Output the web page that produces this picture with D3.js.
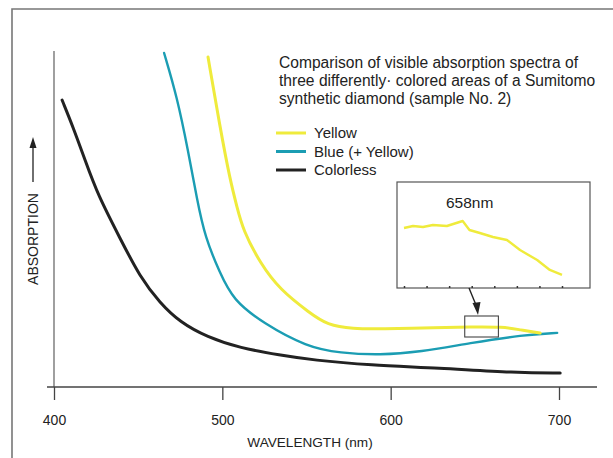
<!DOCTYPE html>
<html>
<head>
<meta charset="utf-8">
<script src="https://cdn.jsdelivr.net/npm/d3@7"></script>
<style>
  body { margin: 0; background: #fff; }
  svg text { font-family: "Liberation Sans", Arial, sans-serif; fill: #222; }
</style>
</head>
<body>
<div id="chart"></div>
<script>
// spectra: [wavelength nm, absorption (arbitrary units)]
const colorless = [
  [404.8, 85.4], [411.3, 77.4], [418.4, 67.6], [426.1, 57.1], [439.2, 44.3],
  [451.1, 32.7], [463.0, 25.0], [474.9, 19.3], [490.9, 14.9], [510.5, 11.6],
  [534.3, 9.5], [553.9, 8.0], [587.8, 6.5], [627.6, 5.7], [675.1, 4.2], [700.7, 4.2]
];
const blueYellow = [
  [465.4, 99.4], [473.1, 86.3], [479.6, 70.5], [485.0, 55.7], [489.7, 44.6],
  [498.6, 33.9], [506.4, 25.9], [524.2, 19.0], [550.3, 11.9], [569.9, 10.1],
  [593.7, 9.5], [617.5, 10.4], [647.2, 13.1], [678.7, 15.5], [698.9, 16.1]
];
const yellow = [
  [491.5, 98.2], [498.6, 77.4], [504.6, 61.6], [508.7, 53.6], [512.3, 46.7],
  [522.4, 36.9], [534.3, 28.9], [552.1, 22.0], [562.2, 18.5], [577.7, 17.3],
  [593.7, 17.3], [627.6, 17.6], [647.2, 17.9], [666.8, 17.9], [676.9, 17.0], [688.8, 16.1]
];
// enlarged detail around the 658 nm band
const insetYellow = [
  [645.0, 0.566], [647.0, 0.585], [649.2, 0.575], [651.4, 0.594], [654.5, 0.585],
  [658.0, 0.632], [659.5, 0.547], [661.8, 0.519], [664.7, 0.481], [667.8, 0.453],
  [670.7, 0.358], [674.5, 0.264], [677.3, 0.170], [680.0, 0.123]
];
const xTicks = [400, 500, 600, 700];
const legendItems = ["Yellow", "Blue (+ Yellow)", "Colorless"];
const titleLines = [
  "Comparison of visible absorption spectra of",
  "three differently\u00b7 colored areas of a Sumitomo",
  "synthetic diamond (sample No. 2)"
];

const width = 613, height = 458;
const svg = d3.select("#chart").append("svg")
    .attr("width", width)
    .attr("height", height);

const colors = { yellow: "#efeb3c", blue: "#1b9db3", black: "#222" };

// outer frame
svg.append("path")
    .attr("d", `M12,${height} L12,9 L${width},9`)
    .attr("fill", "none")
    .attr("stroke", "#777")
    .attr("stroke-width", 1.6);

const x = d3.scaleLinear().domain([400, 700]).range([54, 559]);
const y = d3.scaleLinear().domain([0, 100]).range([387, 51]);

// axes
svg.append("line")
    .attr("x1", 54).attr("x2", 54)
    .attr("y1", y(100)).attr("y2", y(0))
    .attr("stroke", "#777").attr("stroke-width", 1.4);
svg.append("line")
    .attr("x1", 47).attr("x2", 597)
    .attr("y1", y(0)).attr("y2", y(0))
    .attr("stroke", "#444").attr("stroke-width", 1.4);

const xAxis = svg.append("g")
    .attr("transform", `translate(0, ${y(0)})`)
    .call(d3.axisBottom(x).tickValues(xTicks).tickSize(13).tickPadding(15));
xAxis.select(".domain").remove();
xAxis.selectAll("line").attr("stroke", "#444").attr("stroke-width", 1.3);
xAxis.selectAll("text")
    .style("font-size", "14px")
    .style("font-family", "'Liberation Sans', Arial, sans-serif")
    .attr("fill", "#222");

svg.append("text")
    .attr("x", 310)
    .attr("y", 447)
    .attr("text-anchor", "middle")
    .style("font-size", "13.6px")
    .text("WAVELENGTH (nm)");

// y label with arrow
svg.append("text")
    .attr("transform", "translate(38, 239) rotate(-90)")
    .attr("text-anchor", "middle")
    .style("font-size", "14px")
    .text("ABSORPTION");
svg.append("line")
    .attr("x1", 33).attr("x2", 33)
    .attr("y1", 182).attr("y2", 146)
    .attr("stroke", "#222").attr("stroke-width", 1.3);
svg.append("path")
    .attr("d", "M33,137 L29.5,148 L36.5,148 Z")
    .attr("fill", "#222");

// curves
const line = d3.line()
    .x(d => x(d[0]))
    .y(d => y(d[1]))
    .curve(d3.curveBasis);

const series = [
  { data: colorless, color: colors.black, w: 3 },
  { data: blueYellow, color: colors.blue, w: 2.4 },
  { data: yellow, color: colors.yellow, w: 3 }
];
svg.selectAll(".spectrum")
    .data(series)
    .enter().append("path")
    .attr("class", "spectrum")
    .attr("d", d => line(d.data))
    .attr("fill", "none")
    .attr("stroke", d => d.color)
    .attr("stroke-width", d => d.w)
    .attr("stroke-linecap", "round");

// title text
svg.selectAll(".title")
    .data(titleLines)
    .enter().append("text")
    .attr("class", "title")
    .attr("x", 279)
    .attr("y", (d, i) => 68 + i * 18)
    .style("font-size", "15.6px")
    .text(d => d);

// legend
const legendColors = [colors.yellow, colors.blue, colors.black];
const legend = svg.append("g").attr("transform", "translate(276, 133)");
legend.selectAll("line")
    .data(legendItems)
    .enter().append("line")
    .attr("x1", 0).attr("x2", 30)
    .attr("y1", (d, i) => i * 18.5)
    .attr("y2", (d, i) => i * 18.5)
    .attr("stroke", (d, i) => legendColors[i])
    .attr("stroke-width", 3);
legend.selectAll("text")
    .data(legendItems)
    .enter().append("text")
    .attr("x", 38)
    .attr("y", (d, i) => i * 18.5 + 5)
    .style("font-size", "15px")
    .text(d => d);

// inset
const inset = { x0: 397, y0: 182, x1: 590, y1: 288 };
svg.append("rect")
    .attr("x", inset.x0).attr("y", inset.y0)
    .attr("width", inset.x1 - inset.x0)
    .attr("height", inset.y1 - inset.y0)
    .attr("fill", "#fff")
    .attr("stroke", "#555")
    .attr("stroke-width", 1.2);

const ix = d3.scaleLinear().domain([645, 680]).range([404, 562]);
const iy = d3.scaleLinear().domain([0, 1]).range([inset.y1, inset.y0]);

const insetAxis = svg.append("g")
    .attr("transform", `translate(0, ${inset.y1})`)
    .call(d3.axisTop(ix).ticks(7).tickSize(2).tickFormat(""));
insetAxis.select(".domain").remove();
insetAxis.selectAll("line").attr("stroke", "#333").attr("stroke-width", 1.5);

svg.append("path")
    .attr("d", d3.line().x(d => ix(d[0])).y(d => iy(d[1]))(insetYellow))
    .attr("fill", "none")
    .attr("stroke", colors.yellow)
    .attr("stroke-width", 2.4)
    .attr("stroke-linejoin", "round");

svg.append("text")
    .attr("x", 446)
    .attr("y", 208)
    .style("font-size", "15.5px")
    .text("658nm");

// pointer to the magnified region
const boxX0 = x(644), boxX1 = x(664);
svg.append("rect")
    .attr("x", boxX0).attr("y", 316)
    .attr("width", boxX1 - boxX0).attr("height", 21)
    .attr("fill", "none")
    .attr("stroke", "#444")
    .attr("stroke-width", 1.1);
svg.append("line")
    .attr("x1", 469).attr("y1", inset.y1)
    .attr("x2", 476).attr("y2", 305)
    .attr("stroke", "#222").attr("stroke-width", 1.4);
svg.append("path")
    .attr("d", "M478,315 L472.5,303 L480.5,302 Z")
    .attr("fill", "#222");
</script>
</body>
</html>
